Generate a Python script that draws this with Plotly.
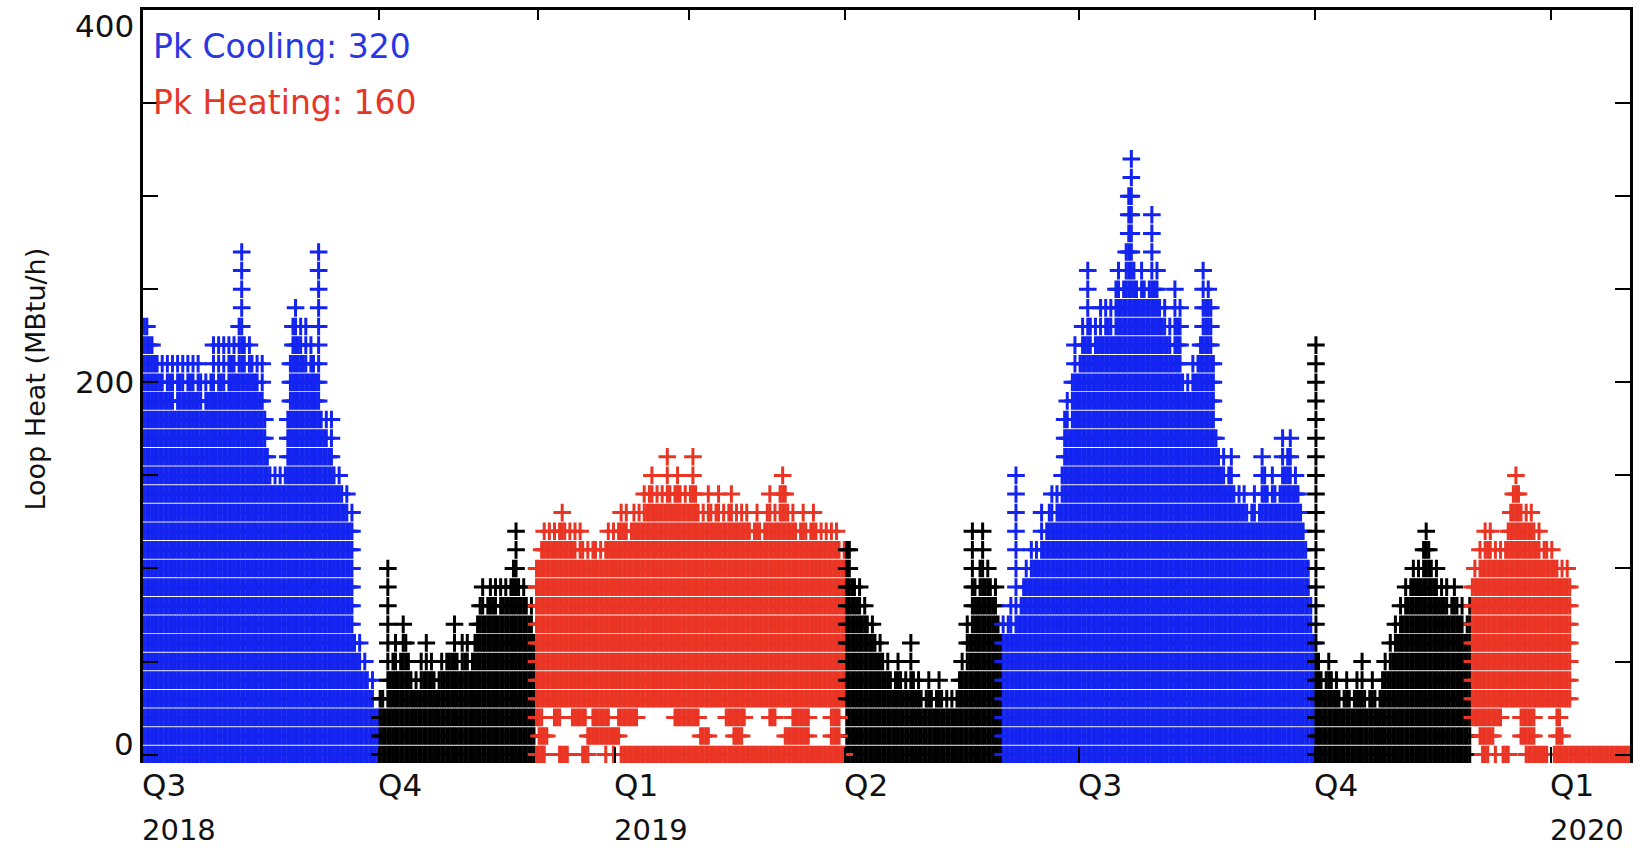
import pandas as pd
import plotly.graph_objects as go

# ---------------- data (daily peak loop heat, MBtu/h) ----------------
blue_2018_start = "2018-07-01"
blue_2018_peak = [
    230, 230, 220, 220, 210, 210, 200, 210, 190, 210,
    200, 210, 180, 210, 200, 210, 190, 210, 200, 210,
    190, 210, 200, 180, 200, 190, 200, 220, 190, 220,
    200, 220, 190, 220, 210, 220, 200, 230, 270, 220,
    200, 220, 210, 200, 210, 190, 210, 180, 160, 150,
    140, 150, 140, 150, 140, 150, 180, 210, 230, 240,
    220, 230, 210, 230, 200, 220, 210, 200, 270, 180,
    170, 180, 160, 180, 150, 140, 150, 140, 130, 140,
    120, 130, 60, 50, 60, 40, 50, 40, 30, 40,
    20, 20]

black_2018_start = "2018-10-01"
black_2018_peak = [
    30, 30, 20, 100, 40, 50, 60, 40, 50, 70,
    60, 50, 40, 30, 40, 30, 50, 40, 60, 40,
    50, 40, 30, 40, 50, 40, 50, 50, 50, 70,
    50, 40, 60, 50, 60, 40, 50, 60, 70, 80,
    90, 70, 80, 90, 80, 90, 70, 90, 80, 90,
    80, 90, 100, 120, 90, 80, 90, 80, 70, 80,
    60]

red_2019_start = "2018-12-01"
red_2019_peak = [
    100, 100, 110, 120, 110, 120, 110, 120, 110, 120,
    130, 120, 110, 120, 110, 120, 100, 120, 110, 100,
    110, 100, 110, 110, 100, 110, 100, 110, 120, 110,
    120, 110, 120, 130, 120, 130, 110, 120, 130, 120,
    130, 120, 140, 130, 140, 150, 130, 140, 130, 140,
    130, 160, 140, 130, 140, 150, 140, 130, 140, 130,
    140, 160, 140, 130, 120, 130, 120, 140, 130, 120,
    130, 140, 120, 130, 120, 130, 140, 120, 130, 120,
    130, 120, 130, 120, 110, 120, 130, 120, 110, 120,
    130, 140, 120, 130, 120, 140, 150, 140, 130, 120,
    130, 120, 110, 120, 130, 120, 110, 120, 130, 120,
    110, 120, 110, 120, 110, 120, 110, 120, 110, 100,
    110]

black_2019_start = "2019-04-01"
black_2019_peak = [
    110, 110, 90, 90, 80, 90, 70, 80, 70, 60,
    70, 60, 50, 60, 50, 40, 50, 40, 30, 40,
    50, 40, 30, 40, 30, 60, 40, 30, 40, 30,
    20, 30, 40, 30, 20, 30, 40, 30, 20, 30,
    20, 30, 20, 30, 40, 50, 40, 70, 60, 120,
    90, 80, 100, 120, 90, 100, 90, 80, 90, 70,
    60]

blue_2019_start = "2019-06-01"
blue_2019_peak = [
    70, 60, 70, 80, 60, 150, 70, 80, 90, 100,
    90, 110, 100, 110, 100, 130, 110, 120, 130, 140,
    120, 140, 130, 150, 180, 190, 170, 200, 220, 200,
    210, 230, 220, 260, 230, 210, 230, 220, 240, 220,
    240, 230, 240, 220, 250, 260, 240, 250, 270, 300,
    320, 260, 250, 240, 260, 250, 240, 250, 290, 250,
    260, 240, 230, 240, 220, 230, 210, 250, 230, 240,
    200, 190, 200, 190, 210, 200, 210, 220, 260, 240,
    250, 240, 210, 170, 160, 150, 160, 140, 150, 160,
    140, 130, 140, 130, 140, 130, 120, 130, 140, 120,
    130, 160, 150, 140, 130, 150, 140, 130, 140, 170,
    150, 160, 170, 140, 150, 140, 130, 120, 110, 100,
    80, 60]

black_2019b_start = "2019-10-01"
black_2019b_peak = [
    220, 50, 40, 30, 40, 50, 40, 30, 40, 30,
    20, 30, 40, 30, 20, 30, 40, 30, 50, 30,
    20, 30, 40, 30, 20, 30, 40, 50, 40, 60,
    50, 70, 60, 80, 70, 90, 80, 90, 100, 90,
    100, 90, 110, 120, 110, 100, 90, 100, 80, 90,
    80, 90, 70, 80, 90, 80, 70, 80, 60, 70,
    80]

red_2020_start = "2019-12-01"
red_2020_peak = [
    90, 100, 90, 110, 100, 120, 110, 120, 100, 110,
    100, 110, 100, 110, 120, 130, 140, 150, 140, 130,
    120, 130, 120, 130, 120, 110, 120, 100, 110, 110,
    100, 110, 100, 100, 90, 100, 90, 100, 90,
    0, 0, 0, 0, 0, 0, 0, 0, 0, 0, 0, 0, 0, 0, 0, 0, 0, 0, 0, 0, 0, 0, 0]

# heating-season hours sitting in the low rows (start, end, level)
red_low_start = ["2018-12-01", "2018-12-10", "2018-12-19", "2018-12-28", "2018-12-31", "2019-01-03",
                 "2018-12-02", "2018-12-21", "2019-02-03", "2019-02-16", "2019-03-08", "2019-03-26",
                 "2018-12-01", "2018-12-08", "2018-12-15", "2018-12-23", "2019-01-02", "2019-01-24",
                 "2019-02-13", "2019-03-02", "2019-03-11", "2019-03-26",
                 "2019-12-05", "2019-12-10", "2019-12-13", "2019-12-22", "2020-01-02",
                 "2019-12-04", "2019-12-20", "2020-01-03",
                 "2019-12-01", "2019-12-20", "2020-01-03"]
red_low_end = ["2018-12-04", "2018-12-13", "2018-12-21", "2018-12-28", "2018-12-31", "2019-03-31",
               "2018-12-05", "2019-01-02", "2019-02-06", "2019-02-19", "2019-03-17", "2019-03-29",
               "2018-12-03", "2018-12-10", "2018-12-20", "2018-12-29", "2019-01-09", "2019-02-02",
               "2019-02-20", "2019-03-04", "2019-03-17", "2019-03-29",
               "2019-12-07", "2019-12-10", "2019-12-15", "2019-12-30", "2020-01-31",
               "2019-12-09", "2019-12-25", "2020-01-05",
               "2019-12-12", "2019-12-25", "2020-01-04"]
red_low_level = [0, 0, 0, 0, 0, 0,
                 10, 10, 10, 10, 10, 10,
                 20, 20, 20, 20, 20, 20, 20, 20, 20, 20,
                 0, 0, 0, 0, 0,
                 10, 10, 10,
                 20, 20, 20]

quarter_ticks = ["2018-10-01", "2019-01-01", "2019-04-01", "2019-07-01", "2019-10-01", "2020-01-01"]
top_ticks = ["2018-10-01", "2018-12-02", "2019-01-30", "2019-04-01", "2019-07-01", "2019-10-01", "2020-01-01"]
quarter_labels = ["Q3", "Q4", "Q1", "Q2", "Q3", "Q4", "Q1"]
quarter_label_dates = ["2018-07-01"] + quarter_ticks
year_labels = ["2018", "2019", "2020"]
year_label_dates = ["2018-07-01", "2019-01-01", "2020-01-01"]
y_label_values = [400, 200, 0]

peak_cooling = 320
peak_heating = 160

# ---------------- styling ----------------
BLUE = "rgb(20,36,240)"
RED = "rgb(234,52,36)"
BLACK = "rgb(0,0,0)"
FONT = "DejaVu Sans"


def column_points(start, peaks, floor):
    xs, ys = [], []
    t0 = pd.Timestamp(start)
    for i, p in enumerate(peaks):
        t = t0 + pd.Timedelta(days=i, hours=12)
        for lvl in range(floor, p + 1, 10):
            xs.append(t)
            ys.append(lvl)
    return xs, ys


def run_points(starts, ends, levels):
    xs, ys = [], []
    for s, e, lvl in zip(starts, ends, levels):
        for t in pd.date_range(s, e, freq="D"):
            xs.append(t + pd.Timedelta(hours=12))
            ys.append(lvl)
    return xs, ys


def cross_trace(xs, ys, color):
    return go.Scatter(
        x=xs, y=ys, mode="markers", showlegend=False, hoverinfo="skip",
        marker=dict(symbol="cross-thin", size=12.6, color=color,
                    line=dict(color=color, width=3)),
    )


fig = go.Figure()
segments = [
    (blue_2018_start, blue_2018_peak, 0, BLUE),
    (black_2018_start, black_2018_peak, 0, BLACK),
    (red_2019_start, red_2019_peak, 30, RED),
    (black_2019_start, black_2019_peak, 0, BLACK),
    (blue_2019_start, blue_2019_peak, 0, BLUE),
    (black_2019b_start, black_2019b_peak, 0, BLACK),
    (red_2020_start, red_2020_peak, 30, RED),
]
for start, peaks, floor, color in segments:
    xs, ys = column_points(start, peaks, floor)
    fig.add_trace(cross_trace(xs, ys, color))

lx, ly = run_points(red_low_start, red_low_end, red_low_level)
fig.add_trace(cross_trace(lx, ly, RED))

# invisible trace so the top axis is drawn
fig.add_trace(go.Scatter(x=["2018-07-01"], y=[None], xaxis="x2", showlegend=False,
                         hoverinfo="skip", mode="markers"))

x_range = ["2018-07-01", "2020-02-01"]

fig.update_layout(
    width=1642, height=850,
    margin=dict(l=143, r=9, t=10, b=87),
    paper_bgcolor="white", plot_bgcolor="white",
    font=dict(family=FONT, color="#111111"),
    xaxis=dict(range=x_range, type="date", showgrid=False, zeroline=False, showline=False,
               tickvals=quarter_ticks, ticks="inside", ticklen=16, tickwidth=2,
               tickcolor="black", showticklabels=False),
    xaxis2=dict(range=x_range, type="date", overlaying="x", side="top", showgrid=False,
                zeroline=False, showline=True, linecolor="black", linewidth=2.5,
                tickvals=top_ticks, ticks="inside", ticklen=10, tickwidth=2,
                tickcolor="black", showticklabels=False),
    yaxis=dict(range=[-4.5, 400], showgrid=False, zeroline=False, showline=True,
               linecolor="black", linewidth=2.5, mirror="ticks",
               tickvals=list(range(0, 401, 50)), ticks="inside", ticklen=15, tickwidth=2,
               tickcolor="black", showticklabels=False),
)

ann = []
# y tick labels
for v, anchor, ys in zip(y_label_values, ["top", "middle", "bottom"], [4, 0, -9]):
    ann.append(dict(x=0, xref="paper", y=v, yref="y", xanchor="right", yanchor=anchor,
                    xshift=-7, yshift=ys, text=str(v), showarrow=False,
                    font=dict(family=FONT, size=31, color="#111111")))
# x labels
for d, t in zip(quarter_label_dates, quarter_labels):
    ann.append(dict(x=d, xref="x", y=0, yref="paper", xanchor="left", yanchor="middle",
                    xshift=-3, yshift=-22, text=t, showarrow=False,
                    font=dict(family=FONT, size=31, color="#111111")))
for d, t in zip(year_label_dates, year_labels):
    ann.append(dict(x=d, xref="x", y=0, yref="paper", xanchor="left", yanchor="middle",
                    xshift=-3, yshift=-67, text=t, showarrow=False,
                    font=dict(family=FONT, size=29, color="#111111")))
# y title
ann.append(dict(x=0, xref="paper", y=0.5, yref="paper", xanchor="center", yanchor="middle",
                xshift=-108, yshift=7, textangle=-90, text="Loop Heat (MBtu/h)", showarrow=False,
                font=dict(family=FONT, size=27, color="#111111")))
# peak labels
ann.append(dict(x=0, xref="paper", y=1, yref="paper", xanchor="left", yanchor="middle",
                xshift=8, yshift=-36, text=f"Pk Cooling: {peak_cooling}", showarrow=False,
                font=dict(family=FONT, size=33, color="rgb(40,55,225)")))
ann.append(dict(x=0, xref="paper", y=1, yref="paper", xanchor="left", yanchor="middle",
                xshift=8, yshift=-92, text=f"Pk Heating: {peak_heating}", showarrow=False,
                font=dict(family=FONT, size=33, color="rgb(228,55,40)")))
fig.update_layout(annotations=ann)

fig.write_html("out.html")
